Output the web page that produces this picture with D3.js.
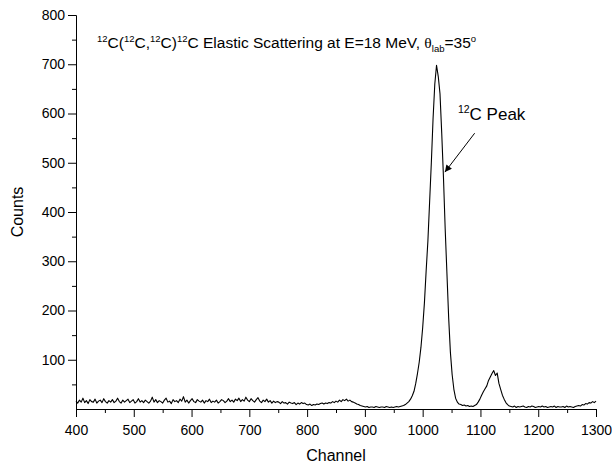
<!DOCTYPE html>
<html>
<head>
<meta charset="utf-8">
<script src="https://cdn.jsdelivr.net/npm/d3@7"></script>
<style>
  body { margin: 0; background: #fff; }
  svg { display: block; font-family: "Liberation Sans", Arial, sans-serif; }
  .axis path, .axis line { stroke: #000; stroke-width: 1; }
  .axis text { font-size: 14px; fill: #000; }
</style>
</head>
<body>
<div id="graph"></div>
<script>
// spectrum, every 3 channels from 400 to 1300
var chStart = 400,
    chStep = 3;

var flat400 = [
  16,12,18,14,22,13,17,11,19,15,14,20,12,16,18,13,21,15,12,17,
  14,19,13,16,22,15,12,18,14,17,20,13,16,19,12,15,21,14,17,13,
  18,15,12,16,24,14,19,13,17,15,12,18,22,14,16,11,19,15,17,13,
  20,16,25,14,18,12,17,21,15,13,19,16,14,18,12,17,15,20,13,16,
  14,18,12,15,19,17,13,16,21,15,18,14,20,17,22,15,19,16,24,18,
  15,21,17,14,19,23,16,13,18,15,20,14,17,12,16,13,15
];                                                    // 400 - 748
var dip751 = [14,11,15,12,13,10,14,12,11,13,9,12,10,13,11,12,9,8,10,7,9,8,10,9,11,12];   // 751 - 826
var bump829 = [10,12,11,13,12,15,13,16,14,18,15,19,17,20,16,18,15,14,12,10,9,7,6];       // 829 - 895
var low898 = [5,4,5,3,4,4,3,5,4,3,4,4,3,5,4,3,4,3,4,5,4,5,6,7,9];                         // 898 - 970
var peak973 = [12,15,20,27,36,52,72,95,125,165,215,280,340,420,500,590,660,698,
               675,640,560,470,365,275,185,115,70,40,22,14];                               // 973 - 1060
var tail1063 = [10,9,7,8,6,7,5,6,5,7];                                                    // 1063 - 1090
var peak1093 = [9,14,20,28,35,41,47,58,65,72,78,68,73,52,40,28,20,13,9,6];                 // 1093 - 1150
var flat1153 = [5,4,6,3,5,4,5,6,4,3,5,4,6,5,3,4,5,4,6,4,5,3,4,5,4,6,3,5,4,4,5,3,6,4,5,4,3,5,6]; // 1153 - 1267
var rise1270 = [7,6,9,8,11,10,13,12,15,13,16];                                            // 1270 - 1300

var xMajor = [400,500,600,700,800,900,1000,1100,1200,1300],
    xMinor = [450,550,650,750,850,950,1050,1150,1250];
var yMajor = [100,200,300,400,500,600,700,800],
    yMinor = [50,150,250,350,450,550,650,750];

// label "12C Peak" and its arrow, in data units
var peakLabel = [1061, 587],
    arrowFrom = [1090, 560],
    arrowTo = [1038.5, 481];

var counts = [].concat(flat400, dip751, bump829, low898, peak973, tail1063, peak1093, flat1153, rise1270);
var spectrum = counts.map(function(v, i) { return [chStart + i * chStep, v]; });

var W = 612, H = 467;
var svg = d3.select("#graph").append("svg").attr("width", W).attr("height", H);

var x = d3.scaleLinear().domain([400, 1300]).range([76, 596]);
var y = d3.scaleLinear().domain([0, 800]).range([409, 15]);

// minor ticks first, then major with labels
svg.append("g").attr("class", "axis").attr("transform", "translate(0,409)")
  .call(d3.axisBottom(x).tickValues(xMinor).tickSize(4).tickSizeOuter(0).tickFormat(""));
svg.append("g").attr("class", "axis").attr("transform", "translate(0,409)")
  .call(d3.axisBottom(x).tickValues(xMajor).tickSize(8).tickSizeOuter(0).tickPadding(8).tickFormat(d3.format("d")));

svg.append("g").attr("class", "axis").attr("transform", "translate(76,0)")
  .call(d3.axisLeft(y).tickValues(yMinor).tickSize(4).tickSizeOuter(0).tickFormat(""));
svg.append("g").attr("class", "axis").attr("transform", "translate(76,0)")
  .call(d3.axisLeft(y).tickValues(yMajor).tickSize(8).tickSizeOuter(0).tickPadding(3).tickFormat(d3.format("d")));

svg.selectAll(".axis").attr("font-family", null).attr("font-size", null);

var line = d3.line().x(function(d) { return x(d[0]); }).y(function(d) { return y(d[1]); });
svg.append("path").datum(spectrum)
  .attr("d", line)
  .attr("fill", "none")
  .attr("stroke", "#000")
  .attr("stroke-width", 1.1)
  .attr("stroke-linejoin", "round");

// axis titles
svg.append("text").attr("x", (76 + 596) / 2).attr("y", 461)
  .attr("text-anchor", "middle").attr("font-size", 16).text("Channel");
svg.append("text").attr("transform", "translate(23," + (15 + 409) / 2 + ") rotate(-90)")
  .attr("text-anchor", "middle").attr("font-size", 16).text("Counts");

// chart title with super/subscripts
var title = svg.append("text").attr("x", 97).attr("y", 48).attr("font-size", 15.5);
function part(t, sz, dy, fam) {
  var s = title.append("tspan").text(t);
  if (sz) s.attr("font-size", sz);
  if (dy) s.attr("dy", dy);
  if (fam) s.attr("font-family", fam);
  return s;
}
part("12", 9.5, -6); part("C(", null, 6);
part("12", 9.5, -6); part("C,", null, 6);
part("12", 9.5, -6); part("C)", null, 6);
part("12", 9.5, -6); part("C Elastic Scattering at E=18 MeV, ", null, 6);
part("\u03b8", null, 0, "Liberation Serif");
part("lab", 9.5, 4); part("=35", null, -4);
part("o", 9.5, -6);

// peak annotation
var lab = svg.append("text").attr("x", x(peakLabel[0])).attr("y", y(peakLabel[1])).attr("font-size", 17);
lab.append("tspan").attr("font-size", 10.5).attr("dy", -7).text("12");
lab.append("tspan").attr("dy", 7).text("C Peak");

svg.append("defs").append("marker")
  .attr("id", "head").attr("viewBox", "0 0 10 10")
  .attr("refX", 10).attr("refY", 5)
  .attr("markerWidth", 9).attr("markerHeight", 7)
  .attr("markerUnits", "userSpaceOnUse")
  .attr("orient", "auto")
  .append("path").attr("d", "M0,0 L10,5 L0,10 z").attr("fill", "#000");

svg.append("line")
  .attr("x1", x(arrowFrom[0])).attr("y1", y(arrowFrom[1]))
  .attr("x2", x(arrowTo[0])).attr("y2", y(arrowTo[1]))
  .attr("stroke", "#000").attr("stroke-width", 1)
  .attr("marker-end", "url(#head)");
</script>
</body>
</html>
